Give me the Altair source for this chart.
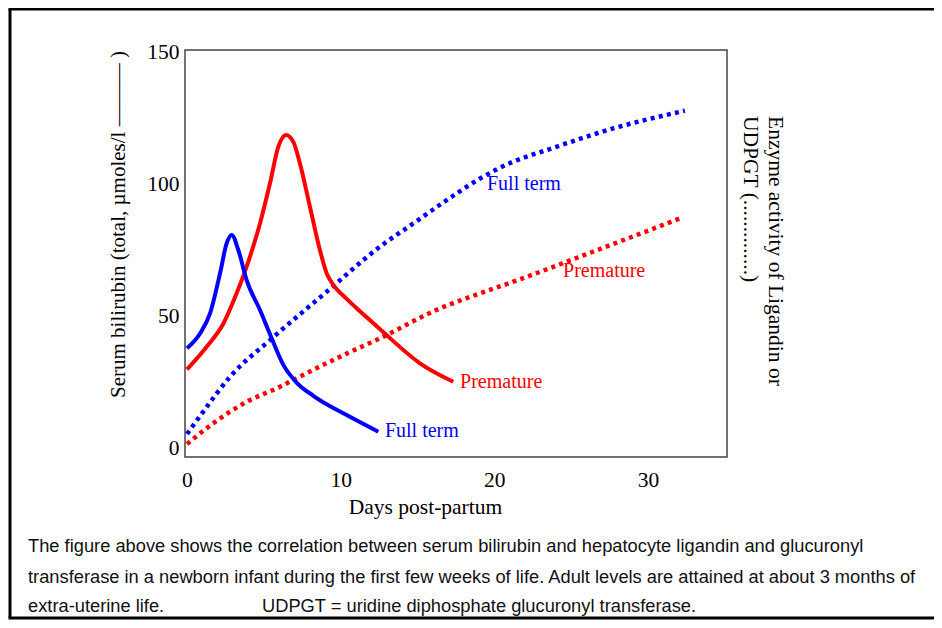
import altair as alt
import pandas as pd

# ---- data ----
ft_bili_days = [0, 0.85, 1.5, 2.15, 2.58, 2.91, 3.34, 3.88, 4.75, 5.51, 6.27, 7.1, 8.22, 10.39, 12.45]
ft_bili_vals = [37.8, 43.4, 51.0, 66.2, 77.5, 80.7, 75.0, 63.6, 52.3, 41.6, 31.5, 25.0, 19.8, 12.5, 6.2]

pm_bili_days = [0, 1.28, 2.37, 3.23, 3.88, 4.75, 5.4, 5.94, 6.44, 6.92, 7.35, 8.0, 8.65, 9.1, 9.5, 10.39, 11.47, 12.56, 13.0, 15.16, 17.33]
pm_bili_vals = [29.8, 38.4, 47.2, 58.6, 68.7, 85.1, 100.3, 114.1, 118.6, 116.0, 107.8, 91.4, 75.0, 66.0, 62.0, 56.5, 50.7, 45.0, 42.7, 32.1, 25.1]

ft_enz_days = [0, 1.06, 2.8, 5.4, 9.09, 12.56, 14.73, 16.9, 19.07, 21.23, 23.41, 27.74, 32.4]
ft_enz_vals = [5.3, 13.8, 27.0, 40.9, 59.2, 76.3, 85.1, 93.9, 102.1, 108.5, 112.9, 121.1, 127.8]

pm_enz_days = [0, 1.71, 3.88, 6.05, 6.92, 9.96, 12.56, 16.46, 19.07, 21.23, 25.57, 32.08]
pm_enz_vals = [1.5, 9.4, 17.5, 23.2, 25.8, 34.6, 41.6, 52.9, 58.6, 63.0, 72.5, 87.0]

label_texts = ["Full term", "Premature", "Full term", "Premature"]
label_days = [12.88, 17.77, 19.52, 24.47]
label_vals = [6.55, 25.1, 100.0, 67.2]
label_colors = ["#0000ff", "#ff0000", "#0000ff", "#ff0000"]

x_ticks = [0, 10, 20, 30]
y_ticks = [0, 50, 100, 150]

caption_lines = [
    "The figure above shows the correlation between serum bilirubin and hepatocyte ligandin and glucuronyl",
    "transferase in a newborn infant during the first few weeks of life. Adult levels are attained at about 3 months of",
    "extra-uterine life.",
    "UDPGT = uridine diphosphate glucuronyl transferase.",
]

SERIF = "Liberation Serif"
SANS = "Liberation Sans"

xscale = alt.Scale(domain=[-0.13, 35.14], nice=False, zero=False)
yscale = alt.Scale(domain=[-3.4, 150.8], nice=False, zero=False)

xaxis = alt.Axis(values=x_ticks, grid=False, ticks=False, domain=False,
                 labelFont=SERIF, labelFontSize=21.5, labelColor="black", labelPadding=12,
                 title="Days post-partum", titleFont=SERIF, titleFontSize=21.5,
                 titleFontWeight="normal", titleColor="black",
                 titleX=240, titleY=50, titleBaseline="middle", titleAlign="center")
yaxis = alt.Axis(values=y_ticks, grid=False, ticks=False, domain=False,
                 labelFont=SERIF, labelFontSize=21.5, labelColor="black", labelPadding=6,
                 title="Serum bilirubin (total, µmoles/l ——— )", titleFont=SERIF, titleFontSize=21,
                 titleFontWeight="normal", titleColor="black", titleAngle=270,
                 titleX=-67, titleY=174, titleBaseline="middle", titleAlign="center")


def xenc():
    return alt.X("day:Q", scale=xscale, axis=xaxis)


def yenc():
    return alt.Y("val:Q", scale=yscale, axis=yaxis)


def line_layer(days, vals, color, dotted=False):
    df = pd.DataFrame({"day": days, "val": vals})
    if dotted:
        mk = alt.Chart(df).mark_line(color=color, strokeWidth=4.5, strokeDash=[4, 4.3],
                                      strokeCap="butt", interpolate="monotone")
    else:
        mk = alt.Chart(df).mark_line(color=color, strokeWidth=4, interpolate="monotone")
    return mk.encode(x=xenc(), y=yenc())


layers = [
    line_layer(ft_enz_days, ft_enz_vals, "#0000ff", dotted=True),
    line_layer(pm_enz_days, pm_enz_vals, "#ff0000", dotted=True),
    line_layer(pm_bili_days, pm_bili_vals, "#ff0000"),
    line_layer(ft_bili_days, ft_bili_vals, "#0000ff"),
]

lab_df = pd.DataFrame({"t": label_texts, "day": label_days, "val": label_vals, "c": label_colors})
labels = alt.Chart(lab_df).mark_text(font=SERIF, fontSize=20, align="left", baseline="middle").encode(
    x=xenc(), y=yenc(),
    text="t:N",
    color=alt.Color("c:N", scale=None),
)
layers.append(labels)

one = alt.Data(values=[{}])

# right-hand title (two rotated lines)
layers.append(alt.Chart(one).mark_text(text="Enzyme activity of Ligandin or", font=SERIF, fontSize=21.5,
                                       angle=90, align="left", baseline="middle", color="black")
              .encode(x=alt.value(590), y=alt.value(66)))
layers.append(alt.Chart(one).mark_text(text="UDPGT (..............)", font=SERIF, fontSize=21.5,
                                       angle=90, align="left", baseline="middle", color="black")
              .encode(x=alt.value(565), y=alt.value(66)))

# caption
cap_pos = [(-157, 497), (-157, 528), (-157, 557), (77, 557)]
for txt, (cx, cy) in zip(caption_lines, cap_pos):
    layers.append(alt.Chart(one).mark_text(text=txt, font=SANS, fontSize=18.3, align="left",
                                           baseline="middle", color="#111111")
                  .encode(x=alt.value(cx), y=alt.value(cy)))

# outer border (left, top, bottom)
layers.append(alt.Chart(one).mark_rule(color="black", strokeWidth=3)
              .encode(x=alt.value(-175), x2=alt.value(-175), y=alt.value(-41), y2=alt.value(568)))
layers.append(alt.Chart(one).mark_rule(color="black", strokeWidth=3)
              .encode(x=alt.value(-176.5), x2=alt.value(760), y=alt.value(-41), y2=alt.value(-41)))
layers.append(alt.Chart(one).mark_rule(color="black", strokeWidth=3)
              .encode(x=alt.value(-176.5), x2=alt.value(760), y=alt.value(568), y2=alt.value(568)))

chart = alt.layer(*layers).properties(
    width=542, height=407,
    padding={"left": 177, "top": 42, "right": 207, "bottom": 163},
    autosize=alt.AutoSizeParams(type="none"),
    background="white",
).configure_view(stroke="#444444", strokeWidth=1.5)

chart.save("out.html", embed_options={"renderer": "svg", "actions": False})
